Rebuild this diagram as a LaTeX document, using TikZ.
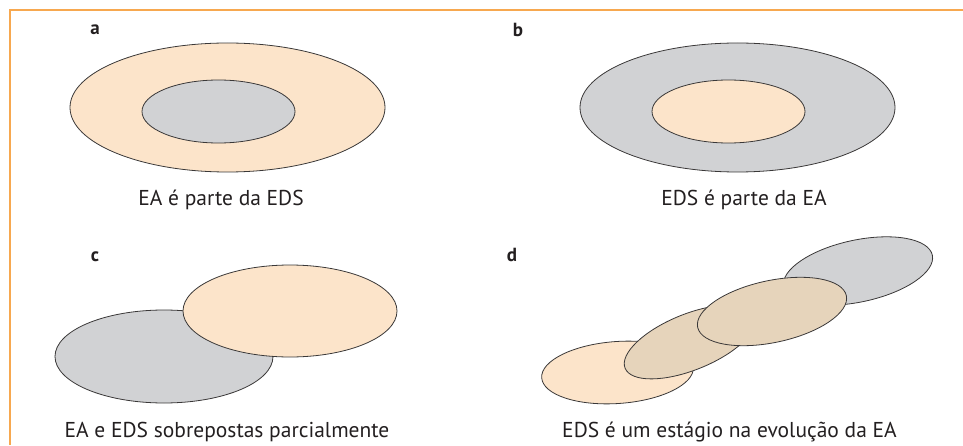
\documentclass[tikz,border=0pt]{standalone}
\usepackage{fontspec}
\setmainfont{PT Sans}
\usetikzlibrary{shapes.geometric}
\definecolor{peach}{HTML}{FCE4CA}
\definecolor{greyfill}{HTML}{D1D2D4}
\definecolor{tan}{HTML}{E6D4BB}
\definecolor{framec}{HTML}{F7A84F}
\definecolor{inkc}{HTML}{231F20}
\definecolor{edgec}{HTML}{3A3838}
\tikzset{
  blob/.style={ellipse, draw=edgec, line width=0.8pt, inner sep=0pt, outer sep=0pt},
  caption/.style={text=inkc, font=\fontsize{21.5}{24}\selectfont, inner sep=0pt},
  panel/.style={text=inkc, font=\fontsize{19}{21}\selectfont\bfseries, inner sep=0pt}
}
\begin{document}
\begin{tikzpicture}[x=1pt,y=1pt]
\useasboundingbox (0,0) rectangle (963,445);
% frame
\coordinate (fl) at (10,0);
\coordinate (fc) at (10,434.5);
\coordinate (fr) at (963,434.5);
\draw[framec, line width=2pt] (fl) -- (fc) -- (fr);
% panel a
\node[panel] (la) at (95,415) {a};
\node[blob, fill=peach, minimum width=315pt, minimum height=129pt] (aout) at (227.5,337.5) {};
\node[blob, fill=greyfill, minimum width=153pt, minimum height=63pt] (ain) at (218.5,333.5) {};
\node[caption] (ca) at (221,245) {EA é parte da EDS};
% panel b
\node[panel] (lb) at (518,415) {b};
\node[blob, fill=greyfill, minimum width=315pt, minimum height=129pt] (bout) at (737.5,337.5) {};
\node[blob, fill=peach, minimum width=153pt, minimum height=63pt] (bin) at (728.5,333.5) {};
\node[caption] (cb) at (744,245) {EDS é parte da EA};
% panel c
\node[panel] (lc) at (95,188) {c};
\node[blob, fill=greyfill, minimum width=218pt, minimum height=93pt] (cg) at (164,88.5) {};
\node[blob, fill=peach, minimum width=214pt, minimum height=92pt] (cp) at (290,134) {};
\node[caption] (cc) at (227,13) {EA e EDS sobrepostas parcialmente};
% panel d
\node[panel] (ld) at (512,190) {d};
\node[blob, fill=greyfill, minimum width=152pt, minimum height=62pt, rotate=12] (d4) at (858,174) {};
\node[blob, fill=peach, minimum width=152pt, minimum height=62pt, rotate=4] (d1) at (617.5,72.5) {};
\node[blob, fill=tan, minimum width=140pt, minimum height=56pt, rotate=22] (d2) at (690,103) {};
\node[blob, fill=tan, minimum width=152pt, minimum height=62pt, rotate=12] (d3) at (772,133.5) {};
\node[caption] (cd) at (729.5,13) {EDS é um estágio na evolução da EA};
\end{tikzpicture}
\end{document}
